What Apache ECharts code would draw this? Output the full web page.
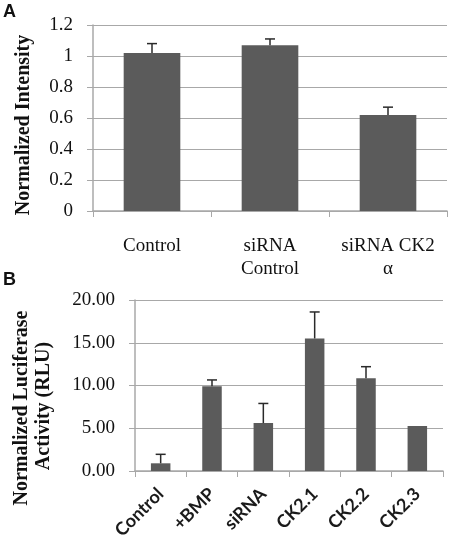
<!DOCTYPE html>
<html><head><meta charset="utf-8">
<script src="https://cdn.jsdelivr.net/npm/echarts@6/dist/echarts.min.js"></script>
<style>html,body{margin:0;padding:0;background:#fff}#c{width:450px;height:549px}</style>
</head><body><div id="c"></div>
<script>
// Panel A
const catsA = ['Control', 'siRNA\nControl', 'siRNA CK2\nα'];
const valsA = [1.02, 1.07, 0.62];
const errA = [0.06, 0.04, 0.05];
const ticksA = [0, 0.2, 0.4, 0.6, 0.8, 1, 1.2];
// Panel B
const catsB = ['Control', '+BMP', 'siRNA', 'CK2.1', 'CK2.2', 'CK2.3'];
const valsB = [0.9, 9.9, 5.6, 15.5, 10.85, 5.25];
const errB = [1.05, 0.75, 2.3, 3.1, 1.35, 0];
const ticksB = [0, 5, 10, 15, 20];

const serif = 'Liberation Serif';
const barColor = '#5b5b5b';
const gridColor = '#a8a8a8';

function errSeries(xi, vals, errs) {
  return {
    type: 'custom', xAxisIndex: xi, yAxisIndex: xi, z: 5,
    data: vals.map((v, i) => [i, v, v + errs[i]]),
    renderItem: function (params, api) {
      const base = api.coord([api.value(0), api.value(1)]);
      const top = api.coord([api.value(0), api.value(2)]);
      if (api.value(2) - api.value(1) <= 0) return null;
      const cw = 5;
      return {
        type: 'group', children: [
          { type: 'line', shape: { x1: base[0], y1: base[1], x2: top[0], y2: top[1] }, style: { stroke: '#2a2a2a', lineWidth: 1.5 } },
          { type: 'line', shape: { x1: top[0] - cw, y1: top[1], x2: top[0] + cw, y2: top[1] }, style: { stroke: '#2a2a2a', lineWidth: 1.5 } }
        ]
      };
    }
  };
}

const chart = echarts.init(document.getElementById('c'));
chart.setOption({
  animation: false,
  backgroundColor: '#fff',
  grid: [
    { left: 93, top: 25, width: 354, height: 186 },
    { left: 135, top: 300, width: 308, height: 171 }
  ],
  xAxis: [
    {
      gridIndex: 0, type: 'category', data: catsA,
      axisLine: { lineStyle: { color: gridColor, width: 1.5 } },
      axisTick: { show: true, length: 6, lineStyle: { color: gridColor } },
      axisLabel: { color: '#111', fontFamily: serif, fontSize: 19, lineHeight: 23, margin: 24, interval: 0 }
    },
    {
      gridIndex: 1, type: 'category', data: catsB,
      axisLine: { lineStyle: { color: gridColor, width: 1.5 } },
      axisTick: { show: true, length: 6, lineStyle: { color: gridColor } },
      axisLabel: { color: '#1a1a1a', fontFamily: 'Lato', fontWeight: 'bold', fontSize: 18, rotate: 45, margin: 20, interval: 0, hideOverlap: false }
    }
  ],
  yAxis: [
    {
      gridIndex: 0, type: 'value', min: ticksA[0], max: ticksA[ticksA.length - 1], interval: 0.2,
      axisLine: { show: true, lineStyle: { color: gridColor, width: 1.5 } },
      axisTick: { show: true, length: 6, lineStyle: { color: gridColor } },
      splitLine: { lineStyle: { color: gridColor, width: 1 } },
      axisLabel: { color: '#111', fontFamily: serif, fontSize: 19, margin: 20, formatter: v => String(Math.round(v * 10) / 10) }
    },
    {
      gridIndex: 1, type: 'value', min: ticksB[0], max: ticksB[ticksB.length - 1], interval: 5,
      axisLine: { show: true, lineStyle: { color: gridColor, width: 1.5 } },
      axisTick: { show: true, length: 6, lineStyle: { color: gridColor } },
      splitLine: { lineStyle: { color: gridColor, width: 1 } },
      axisLabel: { color: '#111', fontFamily: serif, fontSize: 19, margin: 20, formatter: v => v.toFixed(2) }
    }
  ],
  series: [
    { type: 'bar', xAxisIndex: 0, yAxisIndex: 0, data: valsA, barWidth: '48%', itemStyle: { color: barColor } },
    errSeries(0, valsA, errA),
    { type: 'bar', xAxisIndex: 1, yAxisIndex: 1, data: valsB, barWidth: '38%', itemStyle: { color: barColor } },
    errSeries(1, valsB, errB)
  ],
  graphic: [
    { type: 'text', left: 3, top: 3, style: { text: 'A', font: 'bold 18px "Liberation Sans"', fill: '#111' } },
    { type: 'text', left: 3, top: 271, style: { text: 'B', font: 'bold 18px "Liberation Sans"', fill: '#111' } },
    { type: 'text', x: 24, y: 125, rotation: Math.PI / 2, style: { text: 'Normalized Intensity', font: 'bold 20px "Liberation Serif"', fill: '#111', align: 'center', verticalAlign: 'middle' } },
    { type: 'text', x: 22, y: 408, rotation: Math.PI / 2, style: { text: 'Normalized Luciferase', font: 'bold 20px "Liberation Serif"', fill: '#111', align: 'center', verticalAlign: 'middle' } },
    { type: 'text', x: 44, y: 406, rotation: Math.PI / 2, style: { text: 'Activity (RLU)', font: 'bold 20px "Liberation Serif"', fill: '#111', align: 'center', verticalAlign: 'middle' } }
  ]
});
</script></body></html>
